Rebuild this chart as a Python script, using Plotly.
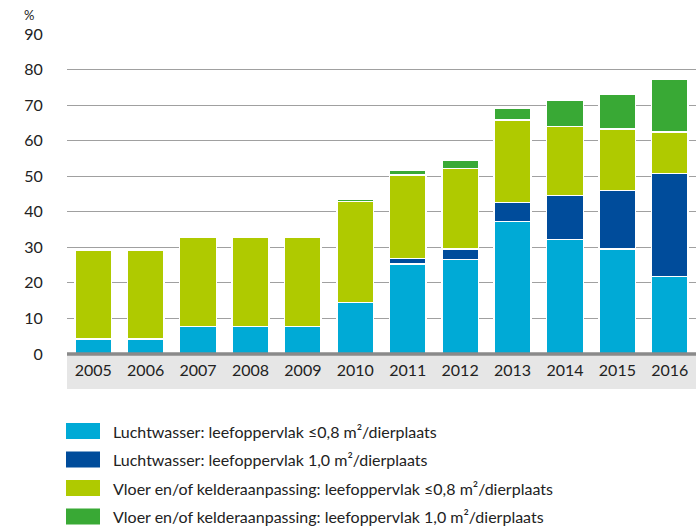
import plotly.graph_objects as go

years = ["2005", "2006", "2007", "2008", "2009", "2010", "2011", "2012", "2013", "2014", "2015", "2016"]
lucht_08 = [4.2, 4.2, 7.8, 7.8, 7.8, 14.5, 25.3, 26.6, 37.2, 32.2, 29.5, 21.8]
lucht_10 = [0, 0, 0, 0, 0, 0, 1.6, 3.0, 5.4, 12.4, 16.5, 29.0]
vloer_08 = [24.9, 24.9, 25.1, 25.1, 25.1, 28.4, 23.5, 22.6, 23.2, 19.4, 17.3, 11.6]
vloer_10 = [0, 0, 0, 0, 0, 0.6, 1.2, 2.3, 3.4, 7.3, 9.7, 15.0]

names = [
    "Luchtwasser: leefoppervlak ≤0,8 m²/dierplaats",
    "Luchtwasser: leefoppervlak 1,0 m²/dierplaats",
    "Vloer en/of kelderaanpassing: leefoppervlak ≤0,8 m²/dierplaats",
    "Vloer en/of kelderaanpassing: leefoppervlak 1,0 m²/dierplaats",
]
colors = ["#00aad6", "#004c9b", "#afca00", "#39a935"]
series = [lucht_08, lucht_10, vloer_08, vloer_10]

FONT = "Lato, 'Noto Sans', sans-serif"

fig = go.Figure()
for name, vals, col in zip(names, series, colors):
    fig.add_trace(go.Bar(
        x=years, y=vals, name=name,
        marker=dict(color=col, line=dict(color="white", width=1.5)),
        showlegend=False,
    ))

W, H = 696, 529
L, R, T, B = 67, 0, 34, 175
pw = W - L - R
ph = H - T - B


def px_x(p):
    return (p - L) / pw


def px_y(p):
    return (H - B - p) / ph


shapes = []
annotations = []
# grey band under x-axis
shapes.append(dict(type="rect", xref="paper", yref="paper",
                   x0=0, x1=1, y0=px_y(389), y1=0,
                   fillcolor="#e6e6e6", line=dict(width=0), layer="below"))
# thick axis line
shapes.append(dict(type="line", xref="paper", yref="paper",
                   x0=0, x1=1, y0=0, y1=0,
                   line=dict(color="#8a8a8a", width=3.5), layer="above"))

# % label
annotations.append(dict(text="%", xref="paper", yref="paper",
                        x=px_x(22), y=px_y(15), xanchor="left", yanchor="middle",
                        showarrow=False, font=dict(size=13, color="#222", family=FONT)))

# custom legend
row_y = [431, 459.5, 488, 516.5]
for name, col, yc in zip(names, colors, row_y):
    shapes.append(dict(type="rect", xref="paper", yref="paper",
                       x0=px_x(66), x1=px_x(100), y0=px_y(yc + 8), y1=px_y(yc - 8),
                       fillcolor=col, line=dict(width=0)))
    annotations.append(dict(text=name, xref="paper", yref="paper",
                            x=px_x(111), y=px_y(yc), xanchor="left", yanchor="middle",
                            showarrow=False,
                            font=dict(size=16, color="#222", family=FONT)))

fig.update_layout(
    barmode="stack",
    bargap=0.30,
    width=W, height=H,
    margin=dict(l=L, r=R, t=T, b=B, pad=0),
    plot_bgcolor="white", paper_bgcolor="white",
    font=dict(family=FONT, size=15, color="#222"),
    shapes=shapes,
    annotations=annotations,
    xaxis=dict(
        showgrid=False, zeroline=False, showline=False,
        ticks="outside", ticklen=2, tickcolor="rgba(0,0,0,0)",
        tickfont=dict(size=16, color="#222", family=FONT),
        fixedrange=True,
    ),
    yaxis=dict(
        range=[0, 90], tickvals=[0, 10, 20, 30, 40, 50, 60, 70, 80, 90],
        showgrid=True, gridcolor="#a0a0a0", gridwidth=1,
        zeroline=False, showline=False,
        ticks="outside", ticklen=20, tickcolor="rgba(0,0,0,0)",
        tickfont=dict(size=16, color="#222", family=FONT),
        fixedrange=True,
    ),
)

fig.write_html(
    "out.html",
    config={"displayModeBar": False, "staticPlot": True},
    post_script="document.body.style.margin='0';document.body.style.overflow='hidden';",
)
